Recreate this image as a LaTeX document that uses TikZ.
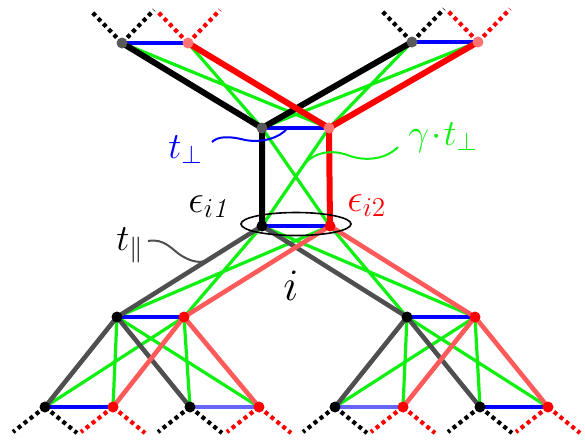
\RequirePackage{fix-cm}
\documentclass[tikz,border=0pt]{standalone}
\usetikzlibrary{calc}
\definecolor{cGray}{HTML}{4F4F4F}
\definecolor{cLred}{HTML}{FF5A5A}
\definecolor{cGreen}{HTML}{10F010}
\definecolor{cBlue}{HTML}{0000FF}
\begin{document}
\begin{tikzpicture}[x=0.5pt,y=-0.5pt,
  blkline/.style={line width=3pt,black},
  redline/.style={line width=3pt,red},
  gryline/.style={line width=2.3pt,cGray},
  lrdline/.style={line width=2.3pt,cLred},
  grnline/.style={line width=1.6pt,cGreen},
  bluline/.style={line width=1.6pt,cBlue},
  bluline2/.style={line width=1.6pt,cBlue!60},
  dotblk/.style={line width=2.1pt,black,dash pattern=on 2pt off 1.8pt},
  dotred/.style={dotblk,red},
  vdot/.style={circle,inner sep=0pt,minimum size=5.5pt,fill=#1},
  lab/.style={font=\fontsize{18.5}{22}\selectfont,inner sep=0pt,anchor=base west},
  elab/.style={font=\fontsize{19.5}{23}\selectfont,inner sep=0pt,anchor=base west},
  wavy/.style={line width=1pt}]
\useasboundingbox (0,0) rectangle (585,441);
% vertices
\coordinate (TLb) at (122,43);  \coordinate (TLr) at (188,43);
\coordinate (TRb) at (412,42);  \coordinate (TRr) at (478,42);
\coordinate (Ub) at (262,128);  \coordinate (Ur) at (329,128);
\coordinate (Lb) at (262,226);  \coordinate (Lr) at (330,226);
\coordinate (Pb) at (117,317);  \coordinate (Pr) at (184,317);
\coordinate (Qb) at (407,317);  \coordinate (Qr) at (475,317);
\coordinate (Ab) at (45,407);   \coordinate (Ar) at (113,407);
\coordinate (Bb) at (190,407);  \coordinate (Br) at (259,407);
\coordinate (Cb) at (335,407);  \coordinate (Cr) at (403,407);
\coordinate (Db) at (480,407);  \coordinate (Dr) at (548,407);
% dotted continuations
\foreach \v in {TLb,TRb} \draw[dotblk] (\v) -- ++(-31,-32) (\v) -- ++(32,-33);
\foreach \v in {TLr,TRr} \draw[dotred] (\v) -- ++(-31,-32) (\v) -- ++(32,-33);
\foreach \v in {Ab,Bb,Cb,Db} \draw[dotblk] (\v) -- ++(-32,25) (\v) -- ++(32,26);
\foreach \v in {Ar,Br,Cr,Dr} \draw[dotred] (\v) -- ++(-32,25) (\v) -- ++(32,26);
% green
\draw[grnline] (TLb) -- (Ur) (TLr) -- (Ub) (TRb) -- (Ur) (TRr) -- (Ub)
  (Ub) -- (Lr) (Ur) -- (Lb)
  (Lb) -- (Pr) (Lb) -- (Qr) (Lr) -- (Pb) (Lr) -- (Qb)
  (Pb) -- (Ar) (Pb) -- (Br) (Pr) -- (Ab) (Pr) -- (Bb)
  (Qb) -- (Cr) (Qb) -- (Dr) (Qr) -- (Cb) (Qr) -- (Db);
% blue
\draw[bluline] (TLb) -- (TLr) (TRb) -- (TRr) (Ub) -- (Ur) (Lb) -- (Lr)
  (Pb) -- (Pr) (Qb) -- (Qr) (Ab) -- (Ar) (Db) -- (Dr);
\draw[bluline2] (Bb) -- (Br) (Cb) -- (Cr);
% lower thick
\draw[gryline] (Lb) -- (Pb) (Lb) -- (Qb) (Pb) -- (Ab) (Pb) -- (Bb) (Qb) -- (Cb) (Qb) -- (Db);
\draw[lrdline] (Lr) -- (Pr) (Lr) -- (Qr) (Pr) -- (Ar) (Pr) -- (Br) (Qr) -- (Cr) (Qr) -- (Dr);
% upper thick
\draw[blkline] (TLb) -- (Ub) (TRb) -- (Ub) (Ub) -- (Lb);
\draw[redline] (TLr) -- (Ur) (TRr) -- (Ur) (Ur) -- (Lr);
% vertex dots
\foreach \v in {TLb,TRb,Ub} \node[vdot=black!65] (d\v) at (\v) {};
\foreach \v in {TLr,TRr,Ur} \node[vdot=red!55] (d\v) at (\v) {};
\foreach \v in {Lb,Pb,Qb,Ab,Bb,Cb,Db} \node[vdot=black] (d\v) at (\v) {};
\foreach \v in {Lr,Pr,Qr,Ar,Br,Cr,Dr} \node[vdot=red] (d\v) at (\v) {};
% ellipse around site i
\coordinate (Emid) at ($(Lb)!0.5!(Lr)+(0,-2)$);
\draw[line width=0.8pt] (Emid) ellipse [x radius=55, y radius=11.5];
% labels
\node[lab,text=cBlue] (tperp) at (168,158) {$t_\perp$};
\node[lab,text=cGreen] (gtperp) at (408,145) {$\gamma\!\cdot\! t_\perp$};
\node[elab] (e1) at (188,212) {$\epsilon_{i\mathit{1}}$};
\node[elab,text=red] (e2) at (347,211) {$\epsilon_{i2}$};
\node[lab] (tpar) at (116,250) {$t_\parallel$};
\node[inner sep=0pt,anchor=base,font=\fontsize{22.5}{27}\selectfont] (ilab) at (291,300) {$i$};
% pointer curves
\coordinate (bend) at ($(Ub)!0.38!(Ur)$);
\coordinate (bstart) at (212,142);
\draw[wavy,cBlue] (bstart) .. controls (218,136) and (230,136) .. (245,140)
  .. controls (262,143) and (280,138) .. (bend);
\coordinate (gstart) at ($(Ur)!0.36!(Lb)$);
\coordinate (gend) at (398,147);
\draw[wavy,cGreen] (gstart) .. controls (318,150) and (335,150) .. (350,156)
  .. controls (365,161) and (385,160) .. (gend);
\coordinate (tstart) at (148,241);
\coordinate (tend) at ($(Lb)!0.38!(Pb)$);
\draw[wavy,cGray] (tstart) .. controls (165,238) and (172,250) .. (182,256)
  .. controls (192,262) and (200,263) .. (tend);
\end{tikzpicture}
\end{document}
